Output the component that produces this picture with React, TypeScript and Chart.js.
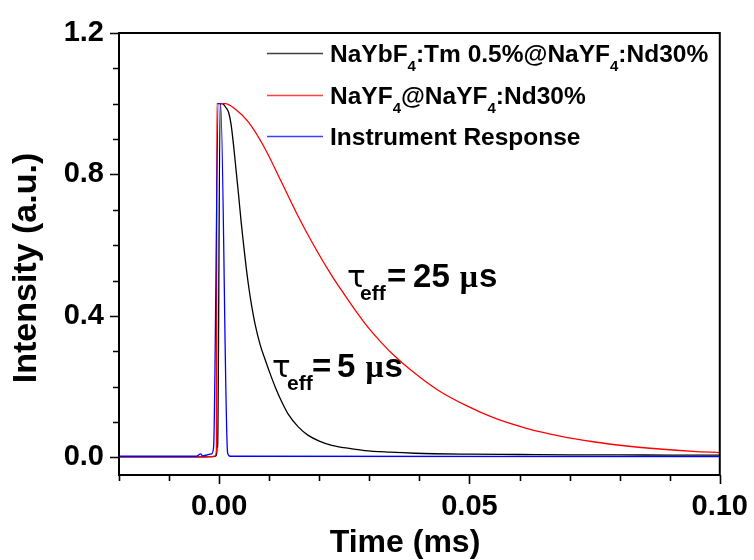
import React, { useEffect, useRef } from "react";
import { Chart, registerables } from "chart.js";

Chart.register(...registerables);

// ---------- data ----------
const SERIES_LABELS = ["NaYbF₄:Tm 0.5%@NaYF₄:Nd30%", "NaYF₄@NaYF₄:Nd30%", "Instrument Response"];
const SERIES_COLORS = ["#000000", "#ff0000", "#0000ff"];

const BLACK_T = [-0.02, -0.005, -0.0012, -0.0007, -0.0005, -0.0004, -0.0003, 0.0002, 0.0005, 0.0009, 0.0013, 0.0019, 0.0024, 0.0029, 0.0034, 0.0039, 0.0044, 0.0049, 0.0054, 0.0059, 0.0065, 0.0072, 0.0082, 0.0092, 0.0102, 0.0112, 0.0125, 0.0138, 0.0158, 0.0178, 0.02, 0.0225, 0.026, 0.0291, 0.034, 0.0391, 0.05, 0.06, 0.07, 0.08, 0.09, 0.1];
const BLACK_I = [0.001, 0.001, 0.002, 0.004, 0.01, 0.027, 0.03, 1.0, 1.0, 0.998, 0.99, 0.975, 0.94, 0.88, 0.81, 0.74, 0.665, 0.6, 0.537, 0.483, 0.428, 0.375, 0.318, 0.276, 0.236, 0.199, 0.157, 0.122, 0.086, 0.062, 0.046, 0.034, 0.025, 0.019, 0.0145, 0.0115, 0.009, 0.008, 0.007, 0.007, 0.006, 0.006];

const RED_T = [-0.02, -0.005, -0.0015, -0.0008, -0.00055, -0.00045, 0.0, 0.0012, 0.0032, 0.0059, 0.0092, 0.0125, 0.0158, 0.0192, 0.0225, 0.025, 0.0275, 0.03, 0.0325, 0.035, 0.0381, 0.0435, 0.0494, 0.0548, 0.0614, 0.0681, 0.0747, 0.0814, 0.088, 0.0947, 0.1];
const RED_I = [0.001, 0.001, 0.002, 0.004, 0.02, 1.0, 1.0, 1.0, 0.985, 0.947, 0.872, 0.777, 0.681, 0.592, 0.514, 0.461, 0.41, 0.363, 0.323, 0.287, 0.249, 0.192, 0.146, 0.112, 0.082, 0.06, 0.044, 0.032, 0.0235, 0.017, 0.0135];

const BLUE_T = [-0.02, -0.0045, -0.0037, -0.0033, -0.0015, -0.0011, -0.00015, 0.0003, 0.0017, 0.0022, 0.1];
const BLUE_I = [0.003, 0.003, 0.01, 0.004, 0.01, 0.03, 1.0, 1.0, 0.012, 0.003, 0.002];

const X_MAJOR = [0, 0.05, 0.1];
const X_LABELS = ["0.00", "0.05", "0.10"];
const X_MINOR = [-0.02, -0.01, 0.01, 0.02, 0.03, 0.04, 0.06, 0.07, 0.08, 0.09];
const Y_MAJOR = [0, 0.4, 0.8, 1.2];
const Y_LABELS = ["0.0", "0.4", "0.8", "1.2"];
const Y_MINOR = [0.1, 0.2, 0.3, 0.5, 0.6, 0.7, 0.9, 1.0, 1.1];

const X_TITLE = "Time (ms)";
const Y_TITLE = "Intensity (a.u.)";

// annotations: anchor in data coords (left of tau, baseline)
const ANNOT_TEXT = ["25", "5"];
const ANNOT_POS = [
  { x: 0.02555, y: 0.481 },
  { x: 0.01058, y: 0.227 },
];

const SANS = '"Liberation Sans", Arial, sans-serif';

function zip(t: number[], v: number[]) {
  return t.map((x, i) => ({ x, y: v[i] }));
}

function drawSubText(ctx: CanvasRenderingContext2D, text: string, x: number, y: number, size: number, subSize: number, subDy: number) {
  let cx = x;
  const parts = text.split(/(₄)/);
  for (const p of parts) {
    if (!p) continue;
    if (p === "₄") {
      ctx.font = `bold ${subSize}px ${SANS}`;
      ctx.fillText("4", cx, y + subDy);
      cx += ctx.measureText("4").width;
    } else {
      ctx.font = `bold ${size}px ${SANS}`;
      ctx.fillText(p, cx, y);
      cx += ctx.measureText(p).width;
    }
  }
}

const decorPlugin = {
  id: "decor",
  afterDraw(chart: any) {
    const { ctx, chartArea } = chart;
    const xs = chart.scales.x;
    const ys = chart.scales.y;
    const { left, right, top, bottom } = chartArea;
    ctx.save();
    ctx.strokeStyle = "#000";
    ctx.fillStyle = "#000";
    ctx.lineWidth = 2;
    ctx.strokeRect(left, top, right - left, bottom - top);
    ctx.lineWidth = 1.6;
    ctx.beginPath();
    for (const v of X_MAJOR) {
      const px = Math.round(xs.getPixelForValue(v)) + 0.5;
      ctx.moveTo(px, bottom);
      ctx.lineTo(px, bottom + 9);
    }
    for (const v of X_MINOR) {
      const px = Math.round(xs.getPixelForValue(v)) + 0.5;
      ctx.moveTo(px, bottom);
      ctx.lineTo(px, bottom + 6);
    }
    for (const v of Y_MAJOR) {
      const py = Math.round(ys.getPixelForValue(v)) + 0.5;
      ctx.moveTo(left, py);
      ctx.lineTo(left - 9, py);
    }
    for (const v of Y_MINOR) {
      const py = Math.round(ys.getPixelForValue(v)) + 0.5;
      ctx.moveTo(left, py);
      ctx.lineTo(left - 6, py);
    }
    ctx.stroke();

    // axis titles
    ctx.font = `bold 32px ${SANS}`;
    ctx.textAlign = "center";
    ctx.textBaseline = "alphabetic";
    ctx.fillText(X_TITLE, 405, 552);
    ctx.save();
    ctx.translate(36, 268);
    ctx.rotate(-Math.PI / 2);
    ctx.font = `bold 34px ${SANS}`;
    ctx.fillText(Y_TITLE, 0, 0);
    ctx.restore();

    // legend
    ctx.textAlign = "left";
    const rows = [53, 95, 136];
    SERIES_LABELS.forEach((lab, i) => {
      const y = rows[i];
      ctx.save();
      ctx.strokeStyle = SERIES_COLORS[i];
      ctx.globalAlpha = 0.75;
      ctx.lineWidth = 1.3;
      ctx.beginPath();
      ctx.moveTo(267, y + 0.5);
      ctx.lineTo(323, y + 0.5);
      ctx.stroke();
      ctx.restore();
      ctx.fillStyle = "#000";
      drawSubText(ctx, lab, 330, y + 9, 24.5, 15, 9);
    });

    // tau annotations
    ANNOT_POS.forEach((p, i) => {
      const ax = xs.getPixelForValue(p.x);
      const ay = ys.getPixelForValue(p.y);
      const isBig = i === 0;
      ctx.fillStyle = "#000";
      ctx.font = `31px "DejaVu Sans", sans-serif`;
      ctx.fillText("τ", ax, ay);
      ctx.font = `bold 21px ${SANS}`;
      ctx.fillText("eff", ax + (isBig ? 13 : 15), ay + 13);
      ctx.font = `bold 33px ${SANS}`;
      ctx.fillText("=", ax + 40, ay);
      const nx = ax + (isBig ? 66 : 65);
      ctx.fillText(ANNOT_TEXT[i], nx, ay);
      const numW = ctx.measureText(ANNOT_TEXT[i]).width;
      const mx = nx + numW + 10;
      ctx.font = `bold 32px "Liberation Serif", serif`;
      ctx.fillText("μ", mx, ay);
      const muW = ctx.measureText("μ").width;
      ctx.font = `bold 33px ${SANS}`;
      ctx.fillText("s", mx + muW + 1, ay);
    });
    ctx.restore();
  },
};

export default function App() {
  const ref = useRef<HTMLCanvasElement | null>(null);
  useEffect(() => {
    if (!ref.current) return;
    const tickFont = { family: SANS, size: 29, weight: "bold" as const };
    const chart = new Chart(ref.current, {
      type: "line",
      data: {
        datasets: [
          { label: SERIES_LABELS[0], data: zip(BLACK_T, BLACK_I), borderColor: SERIES_COLORS[0], order: 3 },
          { label: SERIES_LABELS[1], data: zip(RED_T, RED_I), borderColor: SERIES_COLORS[1], order: 2 },
          { label: SERIES_LABELS[2], data: zip(BLUE_T, BLUE_I), borderColor: SERIES_COLORS[2], order: 1 },
        ],
      },
      options: {
        animation: false,
        responsive: false,
        devicePixelRatio: 1,
        layout: { padding: { top: 33, right: 34, left: 0, bottom: 0 } },
        plugins: { legend: { display: false }, tooltip: { enabled: false } },
        elements: {
          point: { radius: 0 },
          line: { cubicInterpolationMode: "monotone", borderWidth: 1.3, fill: false },
        },
        scales: {
          x: {
            type: "linear",
            min: -0.02,
            max: 0.1,
            afterBuildTicks: (s: any) => {
              s.ticks = X_MAJOR.map((v) => ({ value: v }));
            },
            afterFit: (s: any) => {
              s.height = 85;
            },
            grid: { display: false, drawTicks: true, tickLength: 9 },
            border: { display: false },
            ticks: {
              autoSkip: false,
              maxRotation: 0,
              padding: 6,
              color: "#000",
              font: tickFont,
              callback: (v: any) => X_LABELS[X_MAJOR.indexOf(Number(v))] ?? "",
            },
          },
          y: {
            type: "linear",
            min: -0.05,
            max: 1.2,
            afterBuildTicks: (s: any) => {
              s.ticks = Y_MAJOR.map((v) => ({ value: v }));
            },
            afterFit: (s: any) => {
              s.width = 119;
            },
            grid: { display: false, drawTicks: true, tickLength: 9 },
            border: { display: false },
            ticks: {
              autoSkip: false,
              padding: 6,
              color: "#000",
              font: tickFont,
              callback: (v: any) => Y_LABELS[Y_MAJOR.indexOf(Number(v))] ?? "",
            },
          },
        },
      } as any,
      plugins: [decorPlugin],
    });
    return () => chart.destroy();
  }, []);
  return (
    <div style={{ position: "absolute", left: 0, top: 0, width: 754, height: 560, background: "#fff" }}>
      <canvas ref={ref} width={754} height={560} style={{ display: "block" }} />
    </div>
  );
}
